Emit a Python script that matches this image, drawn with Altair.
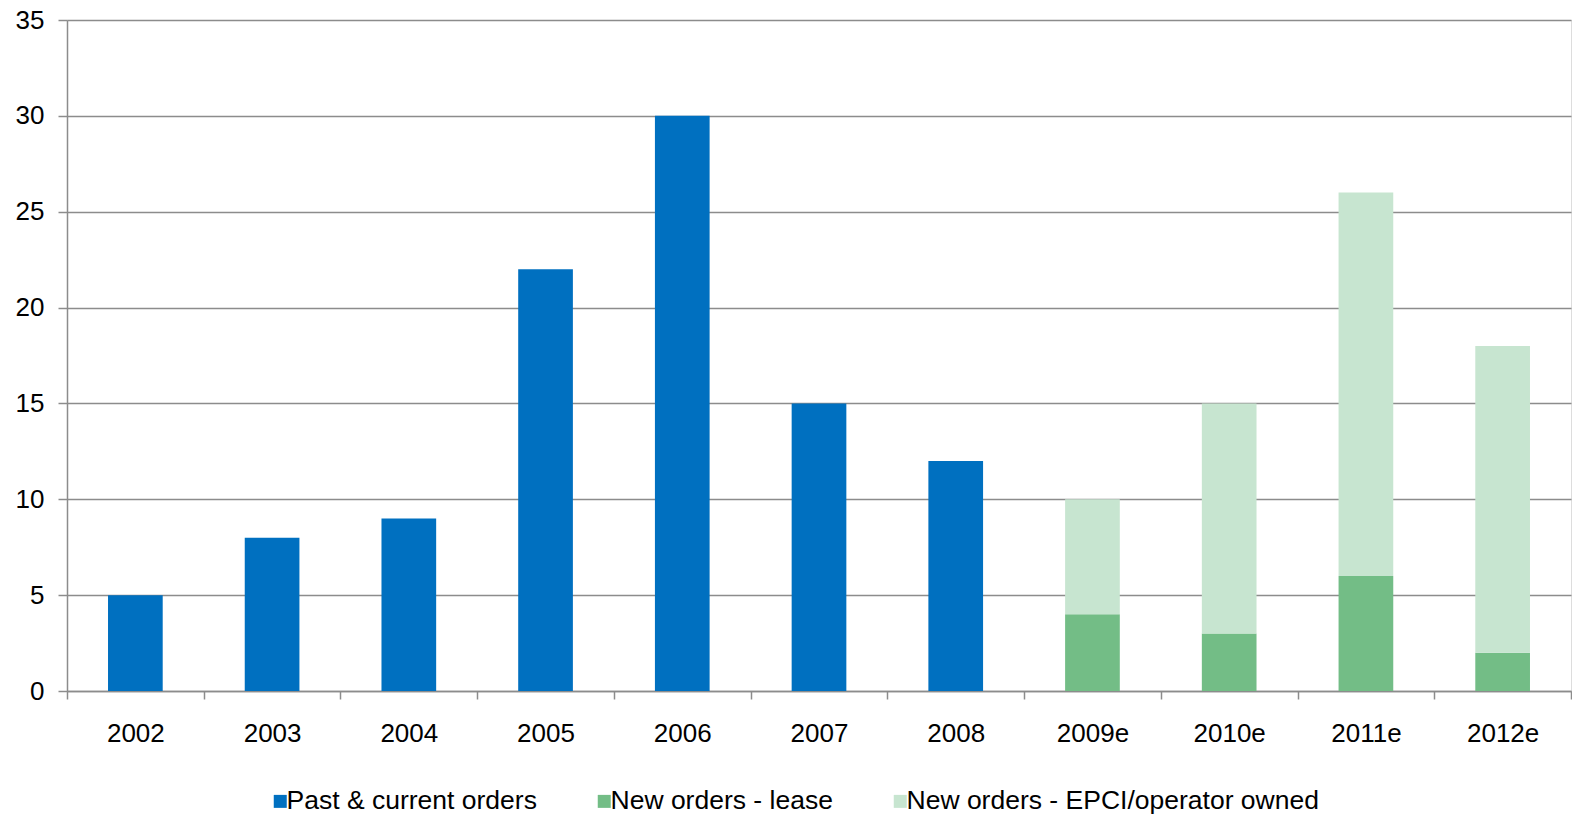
import altair as alt
import pandas as pd

years = ["2002", "2003", "2004", "2005", "2006", "2007", "2008",
         "2009e", "2010e", "2011e", "2012e"]
past = [5, 8, 9, 22, 30, 15, 12, 0, 0, 0, 0]
lease = [0, 0, 0, 0, 0, 0, 0, 4, 3, 6, 2]
epci = [0, 0, 0, 0, 0, 0, 0, 6, 12, 20, 16]

series = ["Past & current orders", "New orders - lease",
          "New orders - EPCI/operator owned"]
colors = ["#0070C0", "#73BD86", "#C7E5D0"]
y_ticks = [0, 5, 10, 15, 20, 25, 30, 35]

rows = []
for i, y in enumerate(years):
    for k, (name, vals) in enumerate(zip(series, [past, lease, epci])):
        if vals[i] > 0:
            rows.append({"year": y, "series": name, "value": vals[i], "ord": k})
df = pd.DataFrame(rows)

FONT = "Liberation Sans"
GRID = "#8c8c8c"

chart = alt.Chart(df).mark_bar(width=alt.RelativeBandSize(0.4)).encode(
    x=alt.X("year:N", sort=years,
            scale=alt.Scale(paddingInner=0, paddingOuter=0),
            axis=alt.Axis(title=None, labelAngle=0, tickBand="extent",
                          labelFontSize=26, labelFont=FONT, labelColor="#000",
                          labelPadding=21, tickSize=8, tickColor=GRID,
                          tickWidth=1.5, domainColor=GRID, domainWidth=1.5,
                          grid=False)),
    y=alt.Y("value:Q", stack="zero",
            scale=alt.Scale(domain=[0, 35], nice=False),
            axis=alt.Axis(title=None, values=y_ticks, labelFontSize=26,
                          labelFont=FONT, labelColor="#000", labelPadding=14,
                          tickSize=9, tickColor=GRID, tickWidth=1.5,
                          domainColor=GRID, domainWidth=1.5,
                          grid=True, gridColor=GRID, gridWidth=1.5)),
    color=alt.Color("series:N", scale=alt.Scale(domain=series, range=colors),
                    legend=alt.Legend(title=None, orient="none",
                                      direction="horizontal",
                                      legendX=200, legendY=768,
                                      symbolType="square", symbolSize=169,
                                      symbolStrokeWidth=0, symbolOpacity=1,
                                      labelFontSize=26.5, labelFont=FONT,
                                      labelColor="#000",
                                      labelOffset={"expr": "-7"},
                                      labelLimit=0,
                                      columnPadding=54, padding=0)),
    order=alt.Order("ord:Q"),
).properties(
    width=1504, height=671,
    autosize=alt.AutoSizeParams(type="none"),
    padding={"left": 67, "top": 20, "right": 1, "bottom": 125},
).configure_view(stroke=None).configure(background="white")

chart.save("out.html", embed_options={"renderer": "svg", "actions": False})
